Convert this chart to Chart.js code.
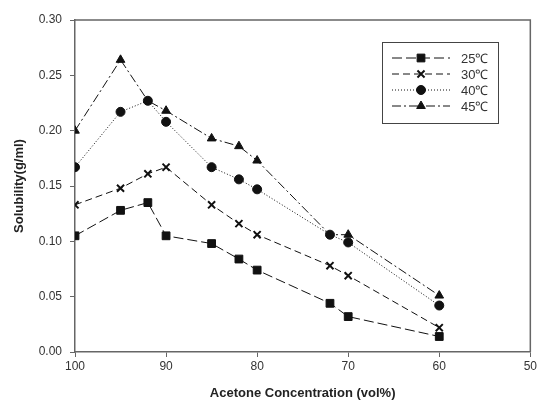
<!DOCTYPE html>
<html>
<head>
<meta charset="utf-8">
<script src="https://cdn.jsdelivr.net/npm/chart.js@4.4.1/dist/chart.umd.min.js"></script>
<style>
  html, body { margin: 0; padding: 0; background: #fff; }
  #wrap { width: 539px; height: 405px; }
</style>
</head>
<body>
<div id="wrap"><canvas id="solChart" width="539" height="405"></canvas></div>
<script>
// acetone concentration (vol%) for each measured point
const conc = [100, 95, 92, 90, 85, 82, 80, 72, 70, 60];
const sol25 = [0.105, 0.128, 0.135, 0.105, 0.098, 0.084, 0.074, 0.044, 0.032, 0.014];
const sol30 = [0.133, 0.148, 0.161, 0.167, 0.133, 0.116, 0.106, 0.078, 0.069, 0.022];
const sol40 = [0.167, 0.217, 0.227, 0.208, 0.167, 0.156, 0.147, 0.106, 0.099, 0.042];
const sol45 = [0.200, 0.264, 0.227, 0.218, 0.193, 0.186, 0.173, 0.106, 0.106, 0.051];
const tempLabels = ['25\u2103', '30\u2103', '40\u2103', '45\u2103'];
const yTicks = [0, 0.05, 0.10, 0.15, 0.20, 0.25, 0.30];

function pts(ys) {
  return conc.map((c, i) => ({ x: c, y: ys[i] }));
}

const styles = [
  { dash: [10, 4], point: 'rect', radius: 5.5 },
  { dash: [7, 4], point: 'crossRot', radius: 5 },
  { dash: [1, 2], point: 'circle', radius: 4.5 },
  { dash: [9, 3, 2, 3], point: 'triangle', radius: 5 }
];

const datasets = [sol25, sol30, sol40, sol45].map((s, i) => ({
  label: tempLabels[i],
  data: pts(s),
  borderColor: '#111',
  backgroundColor: '#111',
  borderWidth: 1,
  borderDash: styles[i].dash,
  pointStyle: styles[i].point,
  // 45C markers at 92 and 72 sit under the 40C circles
  pointRadius: i === 3 ? conc.map(c => (c === 92 || c === 72) ? 0 : styles[i].radius) : styles[i].radius,
  pointBorderWidth: styles[i].point === 'crossRot' ? 2 : 1,
  tension: 0
}));

// frame around plot + legend box
const framePlugin = {
  id: 'frame',
  afterDraw(chart) {
    const ctx = chart.ctx, a = chart.chartArea;
    ctx.save();
    ctx.strokeStyle = '#666';
    ctx.lineWidth = 1.5;
    ctx.beginPath();
    ctx.moveTo(a.left, a.top);
    ctx.lineTo(a.right, a.top);
    ctx.lineTo(a.right, a.bottom);
    ctx.stroke();

    // legend
    ctx.strokeStyle = '#444';
    ctx.lineWidth = 1;
    ctx.strokeRect(382.5, 42.5, 116, 81);
    datasets.forEach((ds, i) => {
      const y = 58 + i * 16;
      ctx.strokeStyle = '#111';
      ctx.setLineDash(ds.borderDash);
      ctx.beginPath();
      ctx.moveTo(392, y);
      ctx.lineTo(450, y);
      ctx.stroke();
      ctx.setLineDash([]);
      ctx.fillStyle = '#111';
      ctx.strokeStyle = '#111';
      ctx.lineWidth = ds.pointBorderWidth;
      Chart.helpers.drawPoint(ctx, { pointStyle: ds.pointStyle, radius: styles[i].radius, borderWidth: ds.pointBorderWidth }, 421, y);
      ctx.lineWidth = 1;
      ctx.fillStyle = '#333';
      ctx.font = '13px "Liberation Sans", Arial, sans-serif';
      ctx.textBaseline = 'middle';
      ctx.fillText(ds.label, 461, y + 1);
    });
    ctx.restore();
  }
};

new Chart(document.getElementById('solChart'), {
  type: 'line',
  data: { datasets: datasets },
  plugins: [framePlugin],
  options: {
    responsive: false,
    animation: false,
    layout: { padding: { top: 20, right: 4, left: 0, bottom: 0 } },
    plugins: { legend: { display: false }, tooltip: { enabled: false } },
    scales: {
      x: {
        type: 'linear',
        reverse: true,
        min: 50,
        max: 100,
        ticks: {
          stepSize: 10,
          color: '#333',
          font: { family: '"Liberation Sans", Arial', size: 12 },
          padding: 2
        },
        grid: { drawOnChartArea: false, tickLength: 5, color: '#666' },
        border: { color: '#666', width: 1.5 },
        title: {
          display: true,
          text: 'Acetone Concentration (vol%)',
          color: '#222',
          font: { family: '"Liberation Sans", Arial', size: 13, weight: 'bold' },
          padding: { top: 10 }
        },
        afterFit(scale) { scale.height = 53; }
      },
      y: {
        min: 0,
        max: 0.30,
        afterBuildTicks(scale) { scale.ticks = yTicks.map(v => ({ value: v })); },
        ticks: {
          color: '#333',
          font: { family: '"Liberation Sans", Arial', size: 12 },
          callback: v => v.toFixed(2),
          padding: 8
        },
        grid: { drawOnChartArea: false, tickLength: 5, color: '#666' },
        border: { color: '#666', width: 1.5 },
        title: {
          display: true,
          text: 'Solubility(g/ml)',
          color: '#222',
          font: { family: '"Liberation Sans", Arial', size: 13, weight: 'bold' },
          padding: { top: 12, bottom: 8 }
        },
        afterFit(scale) { scale.width = 75; }
      }
    }
  }
});
</script>
</body>
</html>
